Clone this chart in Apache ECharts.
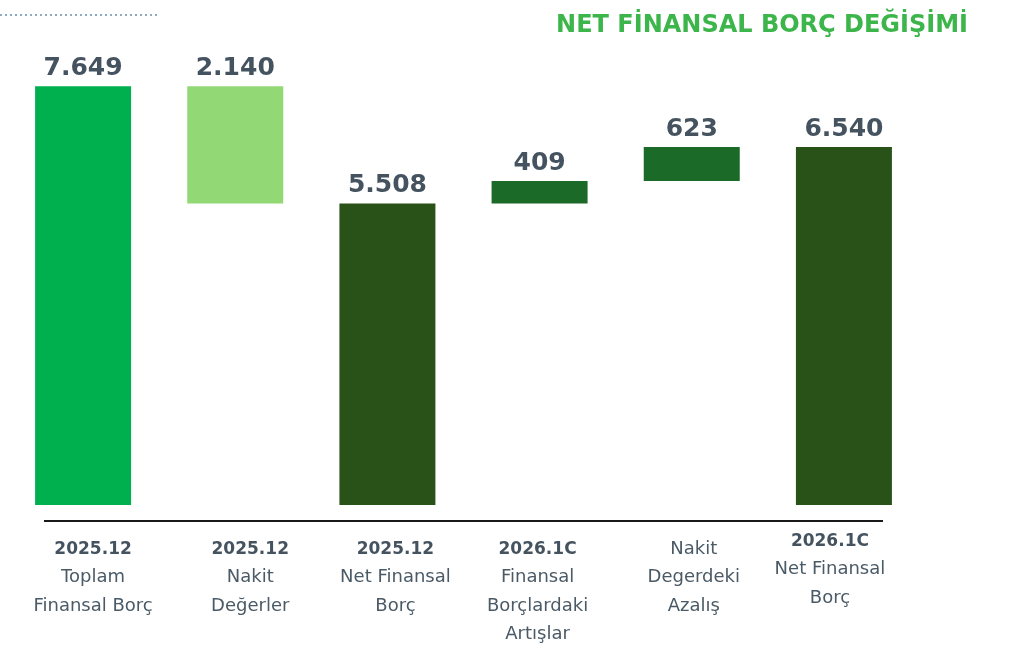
<!DOCTYPE html>
<html>
<head>
<meta charset="utf-8">
<script src="https://cdn.jsdelivr.net/npm/echarts@6/dist/echarts.min.js"></script>
<style>html,body{margin:0;padding:0;background:#fff}#c{width:1027px;height:648px}</style>
</head>
<body>
<div id="c"></div>
<script>
const titleText = 'NET FİNANSAL BORÇ DEĞİŞİMİ';
const categoryHeads = ['2025.12', '2025.12', '2025.12', '2026.1C', '', '2026.1C'];
const categoryLines = [
  ['Toplam', 'Finansal Borç'],
  ['Nakit', 'Değerler'],
  ['Net Finansal', 'Borç'],
  ['Finansal', 'Borçlardaki', 'Artışlar'],
  ['Nakit', 'Degerdeki', 'Azalış'],
  ['Net Finansal', 'Borç']
];
const values = [7649, 2140, 5508, 409, 623, 6540];
const stepTypes = ['total', 'decrease', 'total', 'increase', 'increase', 'total'];
const barColors = ['#00b04f', '#92d975', '#285218', '#1b6a28', '#1b6a28', '#285218'];
// label paddings [top, right, bottom, left] to nudge tick labels as in the original
const labelPads = [[0, 0, 0, 20], [0, 0, 0, 30], [0, 0, 0, 16], [0, 4, 0, 0], [0, 0, 0, 4], [-8, 28, 0, 0]];

// waterfall bases derived from values
const bases = [];
let running = 0;
values.forEach((v, i) => {
  if (stepTypes[i] === 'total') { bases.push(0); running = v; }
  else if (stepTypes[i] === 'decrease') { running -= v; bases.push(running); }
  else { bases.push(running); running += v; }
});

const fmt = v => v.toLocaleString('de-DE');

const chart = echarts.init(document.getElementById('c'));
chart.setOption({
  animation: false,
  title: {
    text: titleText,
    right: 54, top: 9,
    textStyle: { color: '#3cb54a', fontFamily: 'DejaVu Sans', fontWeight: 'bold', fontSize: 24 }
  },
  grid: { left: 7, right: 107, top: 67, bottom: 143, containLabel: false },
  xAxis: {
    type: 'category',
    data: categoryLines.map((l, i) => ({ value: String(i), textStyle: { padding: labelPads[i] } })),
    axisLine: { show: false },
    axisTick: { show: false },
    axisLabel: {
      interval: 0,
      margin: 30,
      verticalAlign: 'top',
      formatter: (val) => {
        const i = Number(val);
        const parts = [];
        if (categoryHeads[i]) parts.push('{h|' + categoryHeads[i] + '}');
        categoryLines[i].forEach(t => parts.push('{n|' + t + '}'));
        return parts.join('\n');
      },
      rich: {
        h: { fontFamily: 'DejaVu Sans', fontWeight: 'bold', fontSize: 17, color: '#44535f', lineHeight: 28.5, letterSpacing: -1.2 },
        n: { fontFamily: 'DejaVu Sans', fontSize: 18, color: '#4a5a66', lineHeight: 28.5, letterSpacing: -0.3 }
      }
    }
  },
  yAxis: { type: 'value', min: 0, max: 8000, show: false, splitLine: { show: false } },
  series: [
    {
      type: 'bar', stack: 'w', barWidth: 96,
      itemStyle: { color: 'transparent' },
      silent: true,
      data: bases
    },
    {
      type: 'bar', stack: 'w', barWidth: 96,
      data: values.map((v, i) => ({ value: v, itemStyle: { color: barColors[i] } })),
      label: {
        show: true, position: 'top', distance: 5,
        formatter: p => fmt(p.value),
        fontFamily: 'DejaVu Sans', fontWeight: 'bold', fontSize: 25, color: '#44535f'
      }
    }
  ],
  graphic: [
    { type: 'line', shape: { x1: 0, y1: 15, x2: 158, y2: 15 },
      style: { stroke: '#8fa9bf', lineWidth: 2, lineDash: [2, 3] } },
    { type: 'line', shape: { x1: 44, y1: 521, x2: 883, y2: 521 },
      style: { stroke: '#1a1a1a', lineWidth: 2 } }
  ]
});
</script>
</body>
</html>
